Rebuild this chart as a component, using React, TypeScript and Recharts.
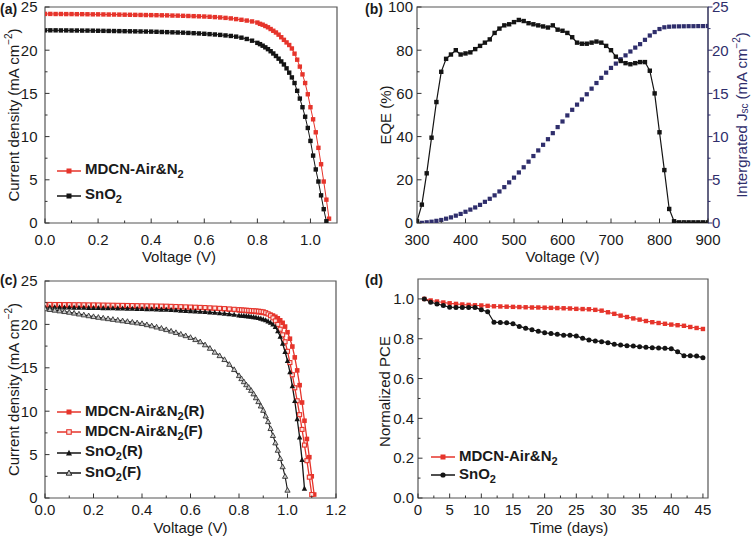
import React from "react"
import { LineChart, Line, XAxis, YAxis, ReferenceArea, Legend, Label } from "recharts"

const FONT = "'Liberation Sans', Arial, Helvetica, sans-serif"
const RED = "#e6342b"
const BLACK = "#141414"
const NAVY = "#2f2e6c"
const FRAME = "#555555"
const TEXT = "#1a1a1a"

// ---------- (a) J-V curves ----------
const aVoltage = [
  0, 0.02, 0.04, 0.06, 0.08, 0.1, 0.12, 0.14, 0.16, 0.18, 0.2, 0.22, 0.24, 0.26, 0.28, 0.3, 0.32, 0.34, 0.36, 0.38,
  0.4, 0.42, 0.44, 0.46, 0.48, 0.5, 0.52, 0.54, 0.56, 0.58, 0.6, 0.62, 0.64, 0.66, 0.68, 0.7, 0.72, 0.74, 0.76, 0.78,
  0.8, 0.81, 0.82, 0.83, 0.84, 0.85, 0.86, 0.87, 0.88, 0.89, 0.9, 0.91, 0.92, 0.93, 0.94, 0.95, 0.96, 0.97, 0.98, 0.99,
  1.0, 1.01, 1.02, 1.03, 1.04, 1.05, 1.06, 1.07,
]
const aMdcn = [
  24.2, 24.2, 24.19, 24.19, 24.18, 24.18, 24.17, 24.17, 24.16, 24.15, 24.15, 24.14, 24.13, 24.13, 24.12, 24.11, 24.1,
  24.09, 24.08, 24.07, 24.06, 24.05, 24.04, 24.03, 24.01, 24.0, 23.98, 23.96, 23.94, 23.92, 23.9, 23.87, 23.83, 23.79,
  23.74, 23.68, 23.6, 23.52, 23.43, 23.33, 23.2,
  23.05, 22.95, 22.8, 22.65, 22.45, 22.25, 22.05, 21.8, 21.5, 21.2, 20.9, 20.6, 20.2, 19.6, 18.9, 18.1, 17.2, 16.2,
  14.9, 13.4, 12.0, 10.5, 8.7, 6.8, 4.8, 2.7, 0.5,
]
const aSno2 = [
  22.3, 22.3, 22.3, 22.29, 22.29, 22.28, 22.28, 22.27, 22.27, 22.26, 22.25, 22.24, 22.23, 22.22, 22.21, 22.2, 22.19,
  22.18, 22.17, 22.16, 22.15, 22.13, 22.11, 22.09, 22.07, 22.05, 22.03, 22.0, 21.97, 21.94, 21.9, 21.86, 21.82, 21.77,
  21.71, 21.65, 21.57, 21.45, 21.3, 21.1, 20.85,
  20.7, 20.52, 20.33, 20.12, 19.88, 19.62, 19.33, 19.02, 18.7, 18.35, 17.9, 17.4, 16.85, 16.2, 15.3, 14.4, 13.4, 12.3,
  11.0, 9.5, 7.8, 6.2, 4.8, 3.2, 1.6, 0.2, null,
]

// ---------- (b) EQE + integrated Jsc ----------
const bWavelength = [
  300, 310, 320, 330, 340, 350, 360, 370, 380, 390, 400, 410, 420, 430, 440, 450, 460, 470, 480, 490, 500, 510, 520,
  530, 540, 550, 560, 570, 580, 590, 600, 610, 620, 630, 640, 650, 660, 670, 680, 690, 700, 710, 720, 730, 740, 750,
  760, 770, 780, 790, 800, 810, 820, 830, 840, 850, 860, 870, 880, 890, 900,
]
const bEqe = [
  0.8, 8.5, 23, 39.5, 56, 70, 76, 78, 80, 78, 78.5, 79, 80.5, 82, 83.5, 85, 88, 90, 91.5, 92, 93, 94, 93.5, 92.5, 92,
  91.5, 91, 90.5, 91.5, 89.5, 89, 88, 86, 83.5, 83, 83, 83.5, 84, 83.5, 82, 80, 77, 75, 74, 73.5, 74, 74.5, 74.5, 70.5,
  60, 42, 24.5, 6.5, 0.8, 0.3, 0.3, 0.3, 0.3, 0.3, 0.3, 0.3,
]
const bJsc = [
  0, 0.02, 0.08, 0.15, 0.25, 0.35, 0.5, 0.65, 0.85, 1.05, 1.3, 1.55, 1.8, 2.1, 2.45, 2.8, 3.2, 3.65, 4.15, 4.7, 5.25,
  5.85, 6.45, 7.1, 7.75, 8.4, 9.05, 9.7, 10.4, 11.1, 11.75, 12.45, 13.1, 13.7, 14.3, 14.9, 15.55, 16.2, 16.8, 17.4,
  17.95, 18.45, 18.95, 19.4, 19.85, 20.3, 20.7, 21.2, 21.7, 22.1, 22.45, 22.65, 22.72, 22.75, 22.76, 22.77, 22.78,
  22.78, 22.79, 22.79, 22.8,
]

// ---------- (c) forward / reverse scans ----------
const cVoltage = [
  0, 0.02, 0.04, 0.06, 0.08, 0.1, 0.12, 0.14, 0.16, 0.18, 0.2, 0.22, 0.24, 0.26, 0.28, 0.3, 0.32, 0.34, 0.36, 0.38,
  0.4, 0.42, 0.44, 0.46, 0.48, 0.5, 0.52, 0.54, 0.56, 0.58, 0.6, 0.62, 0.64, 0.66, 0.68, 0.7, 0.72, 0.74, 0.76, 0.78,
  0.8, 0.81, 0.82, 0.83, 0.84, 0.85, 0.86, 0.87, 0.88, 0.89, 0.9, 0.91, 0.92, 0.93, 0.94, 0.95, 0.96, 0.97, 0.98, 0.99,
  1.0, 1.01, 1.02, 1.03, 1.04, 1.05, 1.06, 1.07, 1.08, 1.09, 1.1, 1.11,
]
const cMdcnR = [
  22.2, 22.2, 22.2, 22.19, 22.19, 22.18, 22.18, 22.17, 22.17, 22.16, 22.16, 22.15, 22.15, 22.14, 22.14, 22.13, 22.12,
  22.12, 22.11, 22.1, 22.09, 22.08, 22.07, 22.06, 22.05, 22.04, 22.02, 22.01, 21.99, 21.97, 21.95, 21.93, 21.91, 21.88,
  21.85, 21.82, 21.79, 21.75, 21.71, 21.67, 21.62,
  21.6, 21.57, 21.55, 21.52, 21.49, 21.46, 21.43, 21.4, 21.36, 21.32, 21.27, 21.21, 21.13, 21.02, 20.88, 20.7, 20.47,
  20.18, 19.75, 19.1, 18.35, 17.45, 16.2, 14.7, 13.0, 11.0, 8.9, 6.8, 4.7, 2.5, 0.4,
]
const cMdcnF = [
  22.3, 22.3, 22.29, 22.29, 22.28, 22.28, 22.27, 22.27, 22.26, 22.25, 22.25, 22.24, 22.23, 22.22, 22.21, 22.2, 22.19,
  22.18, 22.17, 22.16, 22.15, 22.14, 22.13, 22.12, 22.11, 22.1, 22.08, 22.06, 22.04, 22.02, 22.0, 21.98, 21.96, 21.94,
  21.91, 21.88, 21.85, 21.82, 21.78, 21.74, 21.7,
  21.67, 21.65, 21.63, 21.61, 21.59, 21.57, 21.55, 21.52, 21.49, 21.45, 21.35, 21.2, 21.0, 20.75, 20.4, 20.0, 19.45,
  18.8, 18.0, 16.9, 15.6, 14.2, 12.7, 11.2, 9.6, 7.9, 6.1, 4.3, 2.4, 0.4, null,
]
const cSno2R = [
  22.0, 22.0, 21.99, 21.98, 21.97, 21.96, 21.95, 21.94, 21.93, 21.92, 21.91, 21.9, 21.89, 21.88, 21.87, 21.86, 21.85,
  21.84, 21.82, 21.81, 21.8, 21.78, 21.76, 21.74, 21.72, 21.7, 21.67, 21.64, 21.61, 21.58, 21.55, 21.52, 21.48, 21.44,
  21.4, 21.36, 21.31, 21.26, 21.2, 21.13, 21.05,
  21.02, 21.0, 20.97, 20.94, 20.9, 20.86, 20.81, 20.75, 20.68, 20.6, 20.5, 20.37, 20.2, 20.0, 19.72, 19.22, 18.6, 17.8,
  16.85, 15.8, 14.5, 12.9, 11.2, 9.1, 7.0, 4.4, 1.1, null, null, null, null,
]
const cSno2F = [
  21.8, 21.72, 21.64, 21.56, 21.48, 21.4, 21.3, 21.2, 21.1, 21.0, 20.9, 20.82, 20.74, 20.66, 20.58, 20.5, 20.42, 20.34,
  20.26, 20.18, 20.1, 19.97, 19.84, 19.7, 19.56, 19.4, 19.23, 19.06, 18.88, 18.7, 18.5, 18.25, 18.0, 17.65, 17.25,
  16.8, 16.4, 15.95, 15.4, 14.8, 14.1,
  13.75, 13.4, 13.05, 12.75, 12.4, 12.0, 11.55, 11.1, 10.6, 10.1, 9.45, 8.8, 8.0, 7.2, 6.35, 5.5, 4.55, 3.6, 2.5, 0.9,
  null, null, null, null, null, null, null, null, null, null, null,
]

// ---------- (d) stability ----------
const dDays = [
  1, 2, 3, 4, 5, 6, 7, 8, 9, 10, 11, 12, 13, 14, 15, 16, 17, 18, 19, 20, 21, 22, 23, 24, 25, 26, 27, 28, 29, 30, 31, 32,
  33, 34, 35, 36, 37, 38, 39, 40, 41, 42, 43, 44, 45,
]
const dMdcn = [
  1.0, 0.992, 0.987, 0.982, 0.978, 0.975, 0.972, 0.97, 0.968, 0.967, 0.965, 0.963, 0.962, 0.961, 0.96, 0.959, 0.958,
  0.957, 0.957, 0.956, 0.955, 0.954, 0.953, 0.952, 0.95, 0.949, 0.948, 0.945, 0.941, 0.933, 0.925, 0.916, 0.909, 0.902,
  0.896, 0.889, 0.883, 0.879, 0.875, 0.871, 0.868, 0.865, 0.859, 0.854, 0.849,
]
const dSno2 = [
  1.0, 0.983, 0.975, 0.967, 0.958, 0.957, 0.957, 0.957, 0.957, 0.945, 0.936, 0.883, 0.881, 0.88, 0.875, 0.862, 0.853,
  0.845, 0.837, 0.83, 0.826, 0.822, 0.818, 0.818, 0.814, 0.802, 0.794, 0.789, 0.785, 0.78, 0.772, 0.768, 0.765, 0.763,
  0.76, 0.757, 0.755, 0.754, 0.752, 0.75, 0.735, 0.715, 0.714, 0.713, 0.705,
]

// tick lists (minor + major)
const jTicks = [0, 2.5, 5, 7.5, 10, 12.5, 15, 17.5, 20, 22.5, 25]
const jMajor = [0, 5, 10, 15, 20, 25]
const aXTicks = [0, 0.1, 0.2, 0.3, 0.4, 0.5, 0.6, 0.7, 0.8, 0.9, 1.0]
const aXMajor = [0, 0.2, 0.4, 0.6, 0.8, 1.0]
const cXTicks = [0, 0.1, 0.2, 0.3, 0.4, 0.5, 0.6, 0.7, 0.8, 0.9, 1.0, 1.1, 1.2]
const cXMajor = [0, 0.2, 0.4, 0.6, 0.8, 1.0, 1.2]
const bXTicks = [300, 350, 400, 450, 500, 550, 600, 650, 700, 750, 800, 850, 900]
const bXMajor = [300, 400, 500, 600, 700, 800, 900]
const eqeTicks = [0, 10, 20, 30, 40, 50, 60, 70, 80, 90, 100]
const eqeMajor = [0, 20, 40, 60, 80, 100]
const dXTicks = [0, 2.5, 5, 7.5, 10, 12.5, 15, 17.5, 20, 22.5, 25, 27.5, 30, 32.5, 35, 37.5, 40, 42.5, 45]
const dXMajor = [0, 5, 10, 15, 20, 25, 30, 35, 40, 45]
const dYTicks = [0, 0.1, 0.2, 0.3, 0.4, 0.5, 0.6, 0.7, 0.8, 0.9, 1.0]
const dYMajor = [0, 0.2, 0.4, 0.6, 0.8, 1.0]

type MarkerKind = "square" | "openSquare" | "triangle" | "openTriangle" | "circle"

function Marker({ kind, cx, cy, color, size }: { kind: MarkerKind; cx: number; cy: number; color: string; size: number }) {
  const h = size / 2
  switch (kind) {
    case "square":
      return <rect x={cx - h} y={cy - h} width={size} height={size} fill={color} />
    case "openSquare":
      return (
        <rect x={cx - h + 0.5} y={cy - h + 0.5} width={size - 1} height={size - 1} fill="#fbe4e2" stroke={color} strokeWidth={1.1} />
      )
    case "triangle":
      return <polygon points={`${cx},${cy - h - 0.7} ${cx + h + 0.5},${cy + h} ${cx - h - 0.5},${cy + h}`} fill={color} />
    case "openTriangle":
      return (
        <polygon
          points={`${cx},${cy - h - 0.4} ${cx + h + 0.3},${cy + h - 0.3} ${cx - h - 0.3},${cy + h - 0.3}`}
          fill="#c8c8c8"
          stroke={color}
          strokeWidth={0.9}
        />
      )
    default:
      return <circle cx={cx} cy={cy} r={h} fill={color} />
  }
}

const dotOf = (kind: MarkerKind, color: string, size: number) => (p: any) => {
  if (p.value == null || !Number.isFinite(p.cx) || !Number.isFinite(p.cy)) return <g key={`n-${p.index}`} />
  return (
    <g key={`m-${p.index}`}>
      <Marker kind={kind} cx={p.cx} cy={p.cy} color={color} size={size} />
    </g>
  )
}

type TickCfg = {
  side: "bottom" | "left" | "right"
  majors: number[]
  fmt: (v: number) => string
  gap: number
  color?: string
}

const makeTick = (c: TickCfg) => (p: any) => {
  const { x, y, payload, index } = p
  const v: number = payload.value
  const major = c.majors.includes(v)
  const len = major ? 4.5 : 2.5
  const col = c.color ?? "#333"
  const fill = c.color ?? TEXT
  if (c.side === "bottom") {
    return (
      <g key={`t-${index}`}>
        <line x1={x} x2={x} y1={y} y2={y - len} stroke={col} />
        {major && (
          <text x={x} y={y + c.gap} textAnchor="middle" fontSize={15} fill={fill} fontFamily={FONT}>
            {c.fmt(v)}
          </text>
        )}
      </g>
    )
  }
  if (c.side === "left") {
    return (
      <g key={`t-${index}`}>
        <line x1={x} x2={x + len} y1={y} y2={y} stroke={col} />
        {major && (
          <text x={x - c.gap} y={y + 5.3} textAnchor="end" fontSize={15} fill={fill} fontFamily={FONT}>
            {c.fmt(v)}
          </text>
        )}
      </g>
    )
  }
  return (
    <g key={`t-${index}`}>
      <line x1={x} x2={x + len} y1={y} y2={y} stroke={col} />
      {major && (
        <text x={x + c.gap} y={y + 5.3} textAnchor="start" fontSize={15} fill={fill} fontFamily={FONT}>
          {c.fmt(v)}
        </text>
      )}
    </g>
  )
}

const fixed1 = (v: number) => v.toFixed(1)
const plain = (v: number) => String(v)

const xLabel = (text: string, dx: number, dy: number) => (p: any) => {
  const vb = p.viewBox
  return (
    <text x={vb.x + vb.width / 2 + dx} y={vb.y + dy} textAnchor="middle" fontSize={15} fill={TEXT} fontFamily={FONT}>
      {text}
    </text>
  )
}

const yLabel = (content: React.ReactNode, x: number, dy: number, color = TEXT) => (p: any) => {
  const vb = p.viewBox
  const cy = vb.y + vb.height / 2 + dy
  return (
    <text
      x={x}
      y={cy}
      transform={`rotate(-90 ${x} ${cy})`}
      textAnchor="middle"
      dominantBaseline="central"
      fontSize={15}
      fill={color}
      fontFamily={FONT}
    >
      {content}
    </text>
  )
}

const currentDensity = (
  <>
    <tspan>Current density (mA cm</tspan>
    <tspan dy={-5} fontSize={10}>
      −2
    </tspan>
    <tspan dy={5}>)</tspan>
  </>
)

const integratedJsc = (
  <>
    <tspan>Intergrated J</tspan>
    <tspan dy={3} fontSize={10}>
      sc
    </tspan>
    <tspan dy={-3}> (mA cm</tspan>
    <tspan dy={-5} fontSize={10}>
      −2
    </tspan>
    <tspan dy={5}>)</tspan>
  </>
)

type LegendSpec = { name: string; color: string; marker: MarkerKind; size: number; label: React.ReactNode }

const legendContent = (specs: LegendSpec[], rowH: number) => (props: any) => {
  const payload: any[] = props.payload ?? []
  const rows = specs.filter((s) => payload.some((e) => e.value === s.name))
  return (
    <div style={{ fontFamily: FONT }}>
      {rows.map((s) => (
        <div key={s.name} style={{ display: "flex", alignItems: "center", height: rowH }}>
          <svg width={26} height={12}>
            <line x1={1} x2={25} y1={6} y2={6} stroke={s.color} strokeWidth={1.5} />
            <Marker kind={s.marker} cx={13} cy={6} color={s.color} size={s.size} />
          </svg>
          <span style={{ fontWeight: 700, fontSize: 15, color: TEXT, marginLeft: 3, lineHeight: 1, whiteSpace: "nowrap" }}>
            {s.label}
          </span>
        </div>
      ))}
    </div>
  )
}

const mdcnLabel = (suffix: string) => (
  <>
    {"MDCN-Air&N"}
    <sub style={{ fontSize: 11 }}>2</sub>
    {suffix}
  </>
)
const sno2Label = (suffix: string) => (
  <>
    SnO<sub style={{ fontSize: 11 }}>2</sub>
    {suffix}
  </>
)

const bare = { tickLine: false, axisLine: false, tickSize: 0, tickMargin: 0, interval: 0 as const, allowDataOverflow: true }

function PanelA() {
  const data = aVoltage.map((v, i) => ({ v, mdcn: aMdcn[i], sno2: aSno2[i] }))
  const specs: LegendSpec[] = [
    { name: "MDCN-Air&N2", color: RED, marker: "square", size: 5, label: mdcnLabel("") },
    { name: "SnO2", color: BLACK, marker: "square", size: 5, label: sno2Label("") },
  ]
  return (
    <LineChart width={378} height={270} data={data} margin={{ top: 7, right: 41, bottom: 0, left: 0 }}>
      <XAxis {...bare} dataKey="v" type="number" domain={[0, 1.1]} ticks={aXTicks} height={47}
        tick={makeTick({ side: "bottom", majors: aXMajor, fmt: fixed1, gap: 21.5 })}>
        <Label content={xLabel("Voltage (V)", -12, 38.5)} />
      </XAxis>
      <YAxis {...bare} type="number" domain={[0, 25]} ticks={jTicks} width={45}
        tick={makeTick({ side: "left", majors: jMajor, fmt: plain, gap: 7.5 })}>
        <Label content={yLabel(currentDensity, 13, 0)} />
      </YAxis>
      <ReferenceArea x1={0} x2={1.1} y1={0} y2={25} fill="none" stroke={FRAME} strokeWidth={1.2} />
      <Line type="linear" dataKey="mdcn" name="MDCN-Air&N2" stroke={RED} strokeWidth={1} dot={dotOf("square", RED, 4.4)}
        activeDot={false} isAnimationActive={false} />
      <Line type="linear" dataKey="sno2" name="SnO2" stroke={BLACK} strokeWidth={1} dot={dotOf("square", BLACK, 4.4)}
        activeDot={false} isAnimationActive={false} />
      <Legend layout="vertical" align="center" verticalAlign="middle" content={legendContent(specs, 25)}
        wrapperStyle={{ left: 56, top: 158, width: 260 }} />
    </LineChart>
  )
}

function PanelB() {
  const data = bWavelength.map((w, i) => ({ w, eqe: bEqe[i], jsc: bJsc[i] }))
  return (
    <LineChart width={377} height={270} data={data} margin={{ top: 7, right: 0, bottom: 0, left: 0 }}>
      <XAxis {...bare} dataKey="w" type="number" domain={[300, 900]} ticks={bXTicks} height={47}
        tick={makeTick({ side: "bottom", majors: bXMajor, fmt: plain, gap: 21.5 })}>
        <Label content={xLabel("Voltage (V)", 0, 38.5)} />
      </XAxis>
      <YAxis {...bare} yAxisId="eqe" type="number" domain={[0, 100]} ticks={eqeTicks} width={39}
        tick={makeTick({ side: "left", majors: eqeMajor, fmt: plain, gap: 4 })}>
        <Label content={yLabel("EQE (%)", 7, 0)} />
      </YAxis>
      <YAxis {...bare} yAxisId="jsc" orientation="right" type="number" domain={[0, 25]} ticks={jTicks} width={47}
        axisLine={{ stroke: NAVY }}
        tick={makeTick({ side: "right", majors: jMajor, fmt: plain, gap: 4, color: NAVY })}>
        <Label content={(p: any) => yLabel(integratedJsc, p.viewBox.x + 33, 0, NAVY)(p)} />
      </YAxis>
      <ReferenceArea yAxisId="eqe" x1={300} x2={900} y1={0} y2={100} fill="none" stroke={FRAME} strokeWidth={1.2} />
      <Line yAxisId="jsc" type="linear" dataKey="jsc" name="Jsc" stroke="none" dot={dotOf("square", NAVY, 4.2)}
        activeDot={false} isAnimationActive={false} />
      <Line yAxisId="eqe" type="linear" dataKey="eqe" name="EQE" stroke={BLACK} strokeWidth={1.2}
        dot={dotOf("square", BLACK, 4.4)} activeDot={false} isAnimationActive={false} />
    </LineChart>
  )
}

function PanelC() {
  const data = cVoltage.map((v, i) => ({ v, mr: cMdcnR[i], mf: cMdcnF[i], sr: cSno2R[i], sf: cSno2F[i] }))
  const specs: LegendSpec[] = [
    { name: "MDCN-Air&N2(R)", color: RED, marker: "square", size: 5, label: mdcnLabel("(R)") },
    { name: "MDCN-Air&N2(F)", color: RED, marker: "openSquare", size: 5.5, label: mdcnLabel("(F)") },
    { name: "SnO2(R)", color: BLACK, marker: "triangle", size: 5, label: sno2Label("(R)") },
    { name: "SnO2(F)", color: BLACK, marker: "openTriangle", size: 5, label: sno2Label("(F)") },
  ]
  return (
    <LineChart width={378} height={269} data={data} margin={{ top: 11, right: 42, bottom: 0, left: 0 }}>
      <XAxis {...bare} dataKey="v" type="number" domain={[0, 1.2]} ticks={cXTicks} height={41}
        tick={makeTick({ side: "bottom", majors: cXMajor, fmt: fixed1, gap: 17 })}>
        <Label content={xLabel("Voltage (V)", 0, 34.5)} />
      </XAxis>
      <YAxis {...bare} type="number" domain={[0, 25]} ticks={jTicks} width={45}
        tick={makeTick({ side: "left", majors: jMajor, fmt: plain, gap: 7.5 })}>
        <Label content={yLabel(currentDensity, 13, 0)} />
      </YAxis>
      <ReferenceArea x1={0} x2={1.2} y1={0} y2={25} fill="none" stroke={FRAME} strokeWidth={1.2} />
      <Line type="linear" dataKey="mr" name="MDCN-Air&N2(R)" stroke={RED} strokeWidth={1.3}
        dot={dotOf("square", RED, 4.6)} activeDot={false} isAnimationActive={false} />
      <Line type="linear" dataKey="mf" name="MDCN-Air&N2(F)" stroke={RED} strokeWidth={1.3}
        dot={dotOf("openSquare", RED, 5)} activeDot={false} isAnimationActive={false} />
      <Line type="linear" dataKey="sr" name="SnO2(R)" stroke={BLACK} strokeWidth={1.3}
        dot={dotOf("triangle", BLACK, 4.4)} activeDot={false} isAnimationActive={false} />
      <Line type="linear" dataKey="sf" name="SnO2(F)" stroke={BLACK} strokeWidth={1.1}
        dot={dotOf("openTriangle", "#333", 4.6)} activeDot={false} isAnimationActive={false} />
      <Legend layout="vertical" align="center" verticalAlign="middle" content={legendContent(specs, 20.3)}
        wrapperStyle={{ left: 56, top: 132, width: 260 }} />
    </LineChart>
  )
}

function PanelD() {
  const data = dDays.map((d, i) => ({ d, mdcn: dMdcn[i], sno2: dSno2[i] }))
  const specs: LegendSpec[] = [
    { name: "MDCN-Air&N2", color: RED, marker: "square", size: 5, label: mdcnLabel("") },
    { name: "SnO2", color: BLACK, marker: "circle", size: 5.2, label: sno2Label("") },
  ]
  return (
    <LineChart width={377} height={269} data={data} margin={{ top: 9, right: 47, bottom: 0, left: 0 }}>
      <XAxis {...bare} dataKey="d" type="number" domain={[0, 45.8]} ticks={dXTicks} height={41}
        tick={makeTick({ side: "bottom", majors: dXMajor, fmt: plain, gap: 17 })}>
        <Label content={xLabel("Time (days)", 6, 34.5)} />
      </XAxis>
      <YAxis {...bare} type="number" domain={[0, 1.1]} ticks={dYTicks} width={40}
        tick={makeTick({ side: "left", majors: dYMajor, fmt: fixed1, gap: 4 })}>
        <Label content={yLabel("Normalized PCE", 6, 3)} />
      </YAxis>
      <ReferenceArea x1={0} x2={45.8} y1={0} y2={1.1} fill="none" stroke={FRAME} strokeWidth={1.2} />
      <Line type="linear" dataKey="mdcn" name="MDCN-Air&N2" stroke={RED} strokeWidth={1.2}
        dot={dotOf("square", RED, 4.4)} activeDot={false} isAnimationActive={false} />
      <Line type="linear" dataKey="sno2" name="SnO2" stroke={BLACK} strokeWidth={1.2}
        dot={dotOf("circle", BLACK, 5)} activeDot={false} isAnimationActive={false} />
      <Legend layout="vertical" align="center" verticalAlign="middle" content={legendContent(specs, 18)}
        wrapperStyle={{ left: 52, top: 178, width: 260 }} />
    </LineChart>
  )
}

const tag: React.CSSProperties = { position: "absolute", fontWeight: 700, fontSize: 14, lineHeight: "16px", color: TEXT }

export default function App() {
  return (
    <div style={{ position: "absolute", left: 0, top: 0, width: 755, height: 539, background: "#fff", fontFamily: FONT }}>
      <div style={{ position: "absolute", left: 0, top: 0 }}>
        <PanelA />
      </div>
      <div style={{ position: "absolute", left: 378, top: 0 }}>
        <PanelB />
      </div>
      <div style={{ position: "absolute", left: 0, top: 270 }}>
        <PanelC />
      </div>
      <div style={{ position: "absolute", left: 378, top: 270 }}>
        <PanelD />
      </div>
      <div style={{ ...tag, left: 0, top: 1 }}>(a)</div>
      <div style={{ ...tag, left: 365, top: 1 }}>(b)</div>
      <div style={{ ...tag, left: 0, top: 272 }}>(c)</div>
      <div style={{ ...tag, left: 365, top: 272 }}>(d)</div>
    </div>
  )
}
